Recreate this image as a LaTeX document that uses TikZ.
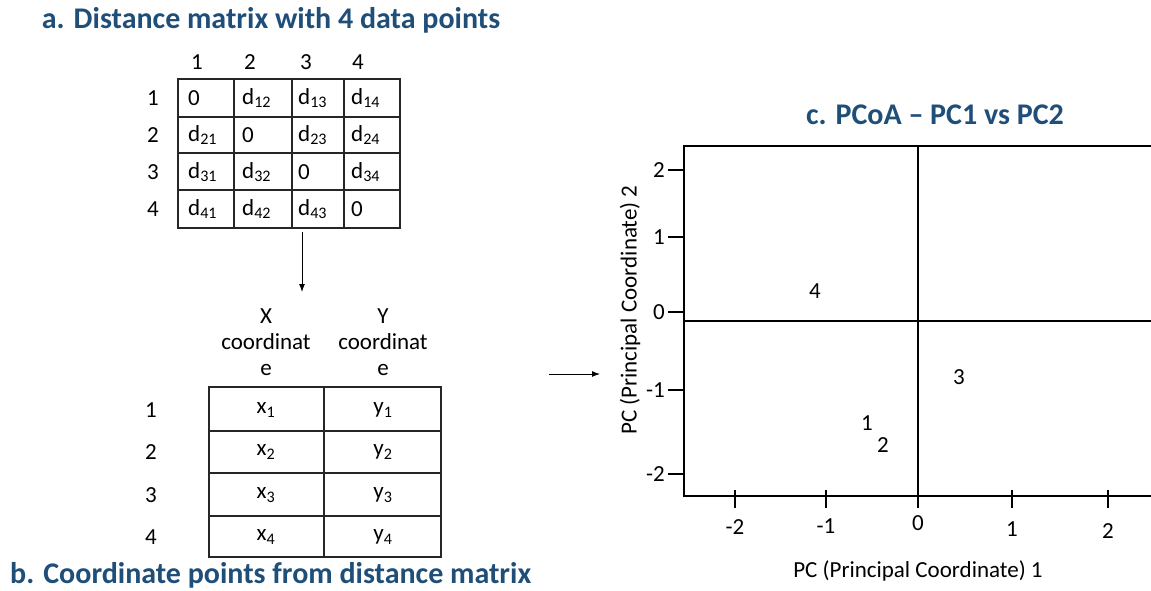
\documentclass[tikz,border=0pt]{standalone}
\usepackage{fontspec}
\setmainfont{Carlito}
\usepackage{xcolor}
\definecolor{titleBlue}{HTML}{1F4E79}
\usetikzlibrary{arrows.meta,positioning}
\tikzset{
    % Panel headings
    panel title/.style={
        font=\fontsize{30}{36}\selectfont\bfseries,
        text=titleBlue,
        inner sep=0pt,
    },
    % Plain labels
    plain label/.style={
        font=\fontsize{23}{26}\selectfont,
        inner sep=0pt,
        align=center,
    },
    % Matrix cell entries
    cell/.style={
        plain label,
        anchor=west,
    },
    % Table and grid lines
    grid line/.style={
        line width=1.2pt,
        draw=black!85,
    },
    % Plot frame and axes
    axis line/.style={
        line width=1.5pt,
    },
    % Small black arrow
    arrow/.style={
        -{Latex[length=8pt, width=6pt]},
        line width=1pt,
    },
}

\begin{document}
\begin{tikzpicture}[x=1pt, y=-1pt]
    \useasboundingbox (0,0) rectangle (1151,591);

    % a. distance matrix
    \node (titlea) [panel title] at (271,20) {a. Distance matrix with 4 data points};
    \foreach \j/\x in {1/197,2/250,3/306,4/358}
        \node (cola\j) [plain label] at (\x,62) {\j};
    \draw [grid line] (178,79) rectangle (400,228);
    \foreach \x in {234,292,344}
        \draw [grid line] (\x,79) -- (\x,228);
    \foreach \y in {117,153,190}
        \draw [grid line] (178,\y) -- (400,\y);
    \foreach \i/\y in {1/98,2/135,3/172,4/209} {
        \node (rowa\i) [plain label] at (153,\y) {\i};
        \foreach \j/\x in {1/188,2/242,3/298,4/351} {
            \ifnum\i=\j
                \node (d\i\j) [cell] at (\x,\y) {0};
            \else
                \node (d\i\j) [cell] at (\x,\y) {d\textsubscript{\i\j}};
            \fi
        }
    }

    % b. coordinate table
    \node (headx) [plain label] at (266,342) {X\\coordinat\\e};
    \node (heady) [plain label] at (383,342) {Y\\coordinat\\e};
    \draw [grid line] (209,387) rectangle (441,557);
    \draw [grid line] (324,387) -- (324,557);
    \foreach \y in {431,473,516}
        \draw [grid line] (209,\y) -- (441,\y);
    \foreach \i/\y in {1/410,2/452,3/495,4/537} {
        \node (rowb\i) [plain label] at (151,\y) {\i};
        \node (x\i) [plain label] at (266,\y) {x\textsubscript{\i}};
        \node (y\i) [plain label] at (383,\y) {y\textsubscript{\i}};
    }
    \node (titleb) [panel title, anchor=west] at (10,575) {b. Coordinate points from distance matrix};

    \coordinate (matbot) at (302,232);
    \coordinate (tabtop) at (302,292);
    \draw [arrow] (matbot) -- (tabtop);

    \coordinate (tabright) at (549,374);
    \coordinate (plotleft) at (600,374);
    \draw [arrow] (tabright) -- (plotleft);

    % c. PCoA plot
    \node (titlec) [panel title] at (935,115) {c. PCoA -- PC1 vs PC2};
    \draw [axis line] (1151,146) -- (684,146) -- (684,496) -- (1151,496);
    \draw [axis line] (918,146) -- (918,496);
    \draw [axis line] (684,321) -- (1151,321);
    \foreach \v/\y in {2/170,1/237,0/312,-1/390,-2/474} {
        \draw [axis line] (668,\y) -- (684,\y);
        \node (ytick\v) [plain label, anchor=east] at (665,\y) {\v};
    }
    \foreach \v/\x/\y in {-2/735/527,-1/826/526,0/918/523,1/1012/529,2/1108/531} {
        \draw [axis line] (\x,490) -- (\x,508);
        \node (xtick\v) [plain label] at (\x,\y) {\v};
    }
    \node (xlabel) [plain label] at (918,571) {PC (Principal Coordinate) 1};
    \node (ylabel) [plain label, rotate=90] at (630,310) {PC (Principal Coordinate) 2};

    \node (p4) [plain label] at (815,291) {4};
    \node (p3) [plain label] at (959,377) {3};
    \node (p1) [plain label] at (867,423) {1};
    \node (p2) [plain label] at (883,445) {2};
\end{tikzpicture}
\end{document}
